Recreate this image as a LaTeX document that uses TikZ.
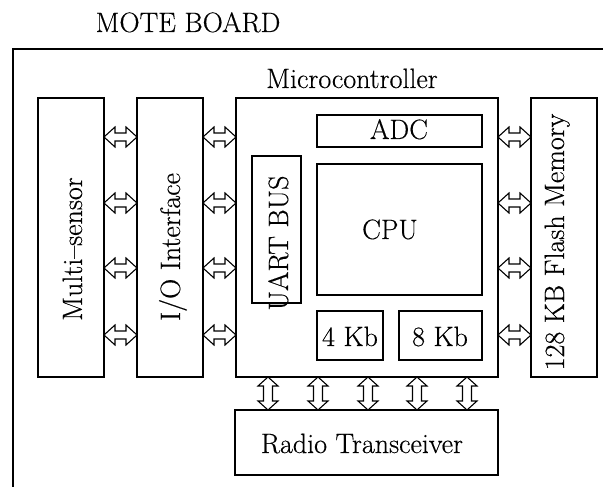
\documentclass[tikz,border=0pt]{standalone}
\usepackage{fontspec}
\setmainfont{Latin Modern Roman}[FakeBold=0.4]
\usetikzlibrary{calc}
\begin{document}
\begin{tikzpicture}[x=1pt,y=-1pt,
  box/.style={draw, line width=1.1pt, inner sep=0pt, outer sep=0pt},
  txt/.style={font=\fontsize{28}{33}\selectfont, inner sep=0pt, anchor=base},
  harr/.style={draw, line width=1.1pt, fill=white,
    to path={let \p1=(\tikztostart), \p2=(\tikztotarget) in
      (\x1,\y1) -- (\x1+11pt,\y1+10pt) -- (\x1+11pt,\y1+4pt) -- (\x2-11pt,\y1+4pt)
      -- (\x2-11pt,\y1+10pt) -- (\x2,\y1) -- (\x2-11pt,\y1-10pt) -- (\x2-11pt,\y1-4pt)
      -- (\x1+11pt,\y1-4pt) -- (\x1+11pt,\y1-10pt) -- cycle}},
  varr/.style={draw, line width=1.1pt, fill=white,
    to path={let \p1=(\tikztostart), \p2=(\tikztotarget) in
      (\x1,\y1) -- (\x1+10pt,\y1-9pt) -- (\x1+4.5pt,\y1-9pt) -- (\x1+4.5pt,\y2+9pt)
      -- (\x1+10pt,\y2+9pt) -- (\x1,\y2) -- (\x1-10pt,\y2+9pt) -- (\x1-4.5pt,\y2+9pt)
      -- (\x1-4.5pt,\y1-9pt) -- (\x1-10pt,\y1-9pt) -- cycle}}
]
\useasboundingbox (0,0) rectangle (603,487);

% outer board (open on right and bottom)
\draw[line width=1.1pt] (603,49) -- (13,49) -- (13,487);
\node[txt] (board) at (188,32) {MOTE BOARD};

% boxes
\node[box, minimum width=66pt, minimum height=279pt] (ms) at (71,237.5) {};
\node[box, minimum width=66pt, minimum height=279pt] (io) at (170,237.5) {};
\node[box, minimum width=262pt, minimum height=279pt] (mc) at (367,237.5) {};
\node[box, minimum width=49pt, minimum height=147pt] (uart) at (276.5,229.5) {};
\node[box, minimum width=165pt, minimum height=32pt] (adc) at (399.5,131) {};
\node[box, minimum width=165pt, minimum height=131pt] (cpu) at (399.5,229.5) {};
\node[box, minimum width=66pt, minimum height=49pt] (kb4) at (350,335.5) {};
\node[box, minimum width=83pt, minimum height=49pt] (kb8) at (440.5,335.5) {};
\node[box, minimum width=66pt, minimum height=279pt] (flash) at (564,237.5) {};
\node[box, minimum width=263pt, minimum height=65pt] (radio) at (366.5,442.5) {};

% texts
\node[txt] (mct) at (352,88) {Microcontroller};
\node[txt, rotate=90] (mst) at (82,249) {Multi--sensor};
\node[txt, rotate=90] (iot) at (180,247) {I/O Interface};
\node[txt, rotate=90] (uartt) at (288,243) {UART BUS};
\node[txt, rotate=90] (flasht) at (564,242) {128 KB Flash Memory};
\node[txt] (adct) at (399,139) {ADC};
\node[txt] (cput) at (390,239) {CPU};
\node[txt] (kb4t) at (350,346) {4 Kb};
\node[txt] (kb8t) at (440,346) {8 Kb};
\node[txt] (radiot) at (362,453) {Radio Transceiver};

% horizontal double arrows
\foreach \yy in {137,203,268,335} {
  \draw[harr] (ms.east |- 0,\yy) to (io.west |- 0,\yy);
  \draw[harr] (io.east |- 0,\yy) to (mc.west |- 0,\yy);
  \draw[harr] (mc.east |- 0,\yy) to (flash.west |- 0,\yy);
}
% vertical double arrows
\foreach \xx in {268,318,368,417,467} {
  \draw[varr] (mc.south -| \xx,0) to (radio.north -| \xx,0);
}
\end{tikzpicture}
\end{document}
